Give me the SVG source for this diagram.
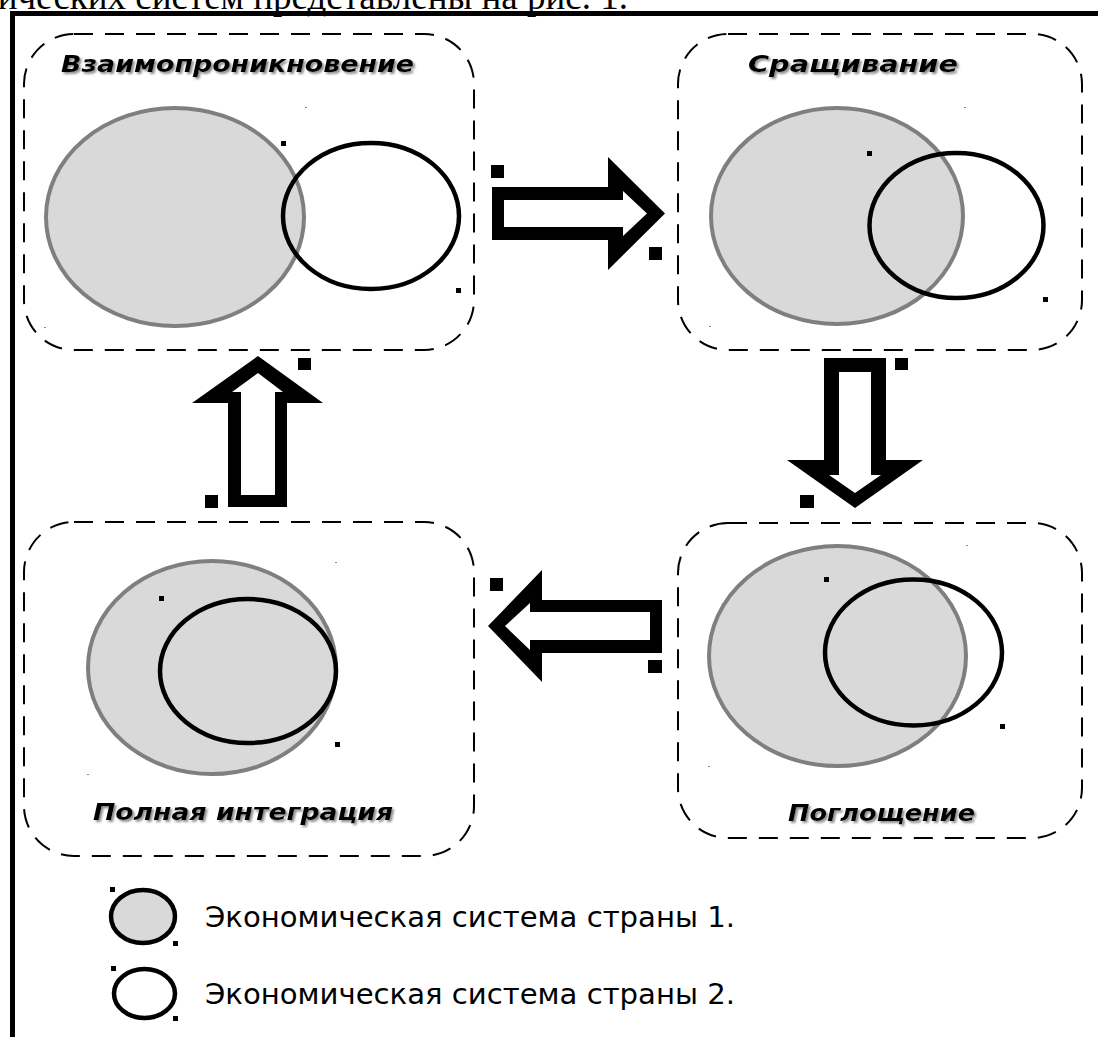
<svg xmlns="http://www.w3.org/2000/svg" width="1098" height="1037" viewBox="0 0 1098 1037">
  <style>
    .frame { fill: none; stroke: #000; stroke-width: 2; stroke-dasharray: 19 12; }
    .c1 { fill: #d9d9d9; stroke: #7f7f7f; stroke-width: 4; }
    .c2 { fill: none; stroke: #000; stroke-width: 4.5; }
    .title { font-family: "DejaVu Sans", Verdana, sans-serif; font-weight: bold; font-style: italic; font-size: 23px; fill: #000; filter: url(#shadow); }
    .legend { font-family: "DejaVu Sans", Verdana, sans-serif; font-size: 28px; fill: #000; }
    .mark { fill: #000; }
    .dot { fill: #888; }
    .arrow-out { fill: #000; }
    .arrow-in { fill: #fff; }
  </style>
  <defs>
    <filter id="shadow" x="-10%" y="-30%" width="120%" height="160%">
      <feDropShadow dx="2" dy="2" stdDeviation="1" flood-color="#808080" flood-opacity="0.9"/>
    </filter>
  </defs>
  <rect width="1098" height="1037" fill="#fff"/>

  <!-- page text and frame -->
  <text x="628" y="9" text-anchor="end" font-family="Liberation Serif, serif" font-size="37">ических систем представлены на рис. 1.</text>
  <line x1="10" y1="13.5" x2="1098" y2="13.5" stroke="#000" stroke-width="5"/>
  <line x1="12.5" y1="11" x2="12.5" y2="1037" stroke="#000" stroke-width="5"/>

  <g id="node-vzaimopronik">
    <rect class="frame" x="24" y="34" width="450" height="316" rx="50" ry="50"/>
    <text class="title" x="61" y="72" textLength="353" lengthAdjust="spacingAndGlyphs">Взаимопроникновение</text>
    <ellipse class="c1" cx="175" cy="217" rx="129" ry="109"/>
    <ellipse class="c2" cx="371" cy="216" rx="88" ry="73"/>
    <rect class="mark" x="281" y="141" width="5" height="5"/>
    <rect class="mark" x="456" y="288" width="5" height="5"/>
    <rect class="dot" x="305" y="107" width="2" height="1"/>
    <rect class="dot" x="44" y="327" width="2" height="1"/>
  </g>

  <g id="node-srashivanie">
    <rect class="frame" x="678" y="34" width="404" height="316" rx="50" ry="50"/>
    <text class="title" x="748" y="72" textLength="210" lengthAdjust="spacingAndGlyphs">Сращивание</text>
    <ellipse class="c1" cx="837" cy="216" rx="126" ry="108"/>
    <ellipse class="c2" cx="956.5" cy="225.5" rx="87" ry="72.5"/>
    <rect class="mark" x="867" y="151" width="5" height="5"/>
    <rect class="mark" x="1043" y="297" width="5" height="5"/>
    <rect class="dot" x="964" y="107" width="2" height="1"/>
    <rect class="dot" x="709" y="326" width="2" height="1"/>
  </g>

  <g id="node-pogloshenie">
    <rect class="frame" x="678" y="523" width="404" height="315" rx="50" ry="50"/>
    <text class="title" x="788" y="821" textLength="187" lengthAdjust="spacingAndGlyphs">Поглощение</text>
    <ellipse class="c1" cx="837.5" cy="656" rx="128.5" ry="110"/>
    <ellipse class="c2" cx="913.5" cy="652.5" rx="88.5" ry="73"/>
    <rect class="mark" x="824" y="577" width="5" height="5"/>
    <rect class="mark" x="1000" y="724" width="5" height="5"/>
    <rect class="dot" x="966" y="545" width="2" height="1"/>
    <rect class="dot" x="708" y="766" width="2" height="1"/>
  </g>

  <g id="node-polnaya">
    <rect class="frame" x="24" y="522" width="450" height="334" rx="50" ry="50"/>
    <text class="title" x="93" y="820" textLength="300" lengthAdjust="spacingAndGlyphs">Полная интеграция</text>
    <ellipse class="c1" cx="212" cy="667.5" rx="124" ry="106.5"/>
    <ellipse class="c2" cx="248" cy="671" rx="88" ry="72"/>
    <rect class="mark" x="159" y="596" width="5" height="5"/>
    <rect class="mark" x="335" y="742" width="5" height="5"/>
    <rect class="dot" x="335" y="562" width="2" height="1"/>
    <rect class="dot" x="87" y="774" width="2" height="1"/>
  </g>

  <g id="connectors">
    <!-- right arrow: Взаимопроникновение -> Сращивание -->
    <g id="arrow-right">
      <polygon class="arrow-out" points="492,187 608,187 608,157 665,213.5 608,270 608,240 492,240"/>
      <polygon class="arrow-in" points="504,200 623,200 623,191 647,213.5 623,236 623,227 504,227"/>
      <rect class="mark" x="491" y="165" width="13" height="13"/>
      <rect class="mark" x="649" y="247" width="13" height="13"/>
    </g>
    <!-- down arrow: Сращивание -> Поглощение -->
    <g id="arrow-down">
      <polygon class="arrow-out" points="824,358 886,358 886,460 923,460 855,508 787,460 824,460"/>
      <polygon class="arrow-in" points="839,372 871,372 871,475 881,475 855,493 829,475 839,475"/>
      <rect class="mark" x="895" y="358" width="13" height="12"/>
      <rect class="mark" x="800" y="495" width="14" height="13"/>
    </g>
    <!-- left arrow: Поглощение -> Полная интеграция -->
    <g id="arrow-left">
      <polygon class="arrow-out" points="488,626 542,570 542,600 662,600 662,653 542,653 542,682"/>
      <polygon class="arrow-in" points="505,626 530,603 530,612 650,612 650,640 530,640 530,650"/>
      <rect class="mark" x="490" y="578" width="13" height="13"/>
      <rect class="mark" x="648" y="660" width="14" height="13"/>
    </g>
    <!-- up arrow: Полная интеграция -> Взаимопроникновение -->
    <g id="arrow-up">
      <polygon class="arrow-out" points="258,356 323,403 287,403 287,507 228,507 228,403 192,403"/>
      <polygon class="arrow-in" points="258,373 283,392 275,392 275,495 241,495 241,392 232,392"/>
      <rect class="mark" x="298" y="358" width="13" height="12"/>
      <rect class="mark" x="205" y="495" width="13" height="13"/>
    </g>
  </g>

  <g id="legend">
    <g id="legend-1">
      <ellipse cx="143" cy="916.5" rx="32" ry="26.5" fill="#d9d9d9" stroke="#000" stroke-width="4.5"/>
      <rect class="mark" x="110" y="887" width="5" height="5"/>
      <rect class="mark" x="173" y="941" width="5" height="5"/>
      <text class="legend" x="205" y="927" textLength="530" lengthAdjust="spacingAndGlyphs">Экономическая система страны 1.</text>
    </g>
    <g id="legend-2">
      <ellipse cx="144.5" cy="993.5" rx="30.5" ry="24.5" fill="none" stroke="#000" stroke-width="4.5"/>
      <rect class="mark" x="111" y="966" width="5" height="5"/>
      <rect class="mark" x="173" y="1016" width="5" height="5"/>
      <text class="legend" x="205" y="1004" textLength="530" lengthAdjust="spacingAndGlyphs">Экономическая система страны 2.</text>
    </g>
  </g>
</svg>
